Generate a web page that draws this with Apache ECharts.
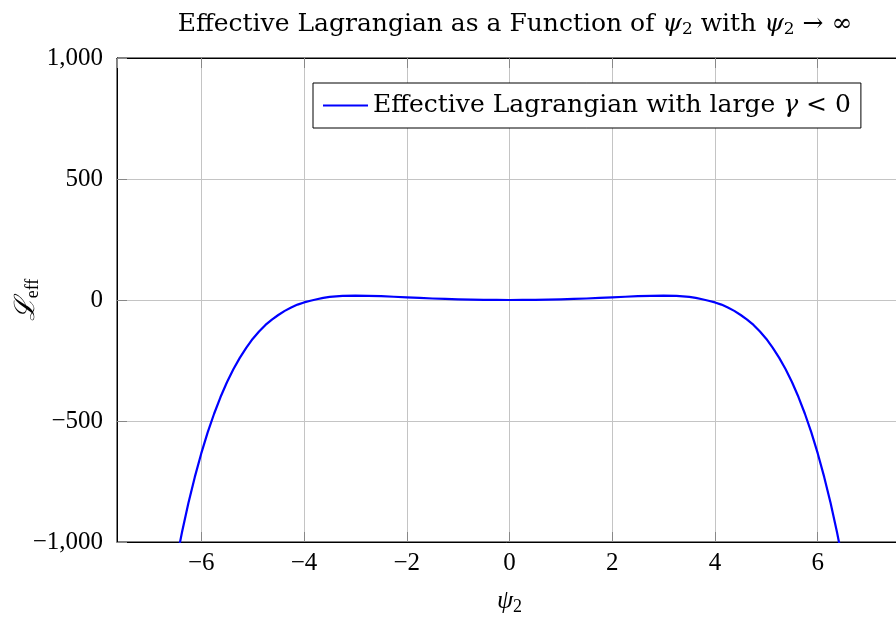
<!DOCTYPE html>
<html>
<head>
<meta charset="utf-8">
<script src="https://cdn.jsdelivr.net/npm/echarts@6/dist/echarts.min.js"></script>
<style>
html,body{margin:0;padding:0;background:#fff;}
#chart{width:896px;height:619px;}
</style>
</head>
<body>
<div id="chart"></div>
<script>
var psiValues = [-6.5, -6.375, -6.25, -6.125, -6.0, -5.875, -5.75, -5.625, -5.5, -5.375, -5.25, -5.125, -5.0, -4.875, -4.75, -4.625, -4.5, -4.375, -4.25, -4.125, -4.0, -3.875, -3.75, -3.625, -3.5, -3.25, -3.0, -2.75, -2.5, -2.25, -2.0, -1.75, -1.5, -1.25, -1.0, -0.75, -0.5, -0.25, 0,
  0.25, 0.5, 0.75, 1.0, 1.25, 1.5, 1.75, 2.0, 2.25, 2.5, 2.75, 3.0, 3.25, 3.5, 3.625, 3.75, 3.875, 4.0, 4.125, 4.25, 4.375, 4.5, 4.625, 4.75, 4.875, 5.0, 5.125, 5.25, 5.375, 5.5, 5.625, 5.75, 5.875, 6.0, 6.125, 6.25, 6.375, 6.5];
var leffValues = [-1093, -960, -839, -731, -634, -547, -470, -401, -340, -286, -239, -198, -161, -130, -103, -81, -62, -45, -31, -19, -10, -3, 3, 8.5, 12.6, 16.7, 18.0, 17.4, 15.8, 13.5, 11.0, 8.6, 6.3, 4.4, 2.8, 1.6, 0.7, 0.2, 0,
  0.2, 0.7, 1.6, 2.8, 4.4, 6.3, 8.6, 11.0, 13.5, 15.8, 17.4, 18.0, 16.7, 12.6, 8.5, 3, -3, -10, -19, -31, -45, -62, -81, -103, -130, -161, -198, -239, -286, -340, -401, -470, -547, -634, -731, -839, -960, -1093];
var seriesName = 'Effective Lagrangian with large γ < 0';
var titleText = 'Effective Lagrangian as a Function of {i|ψ}{s|2} with {i|ψ}{s|2} → ∞';

var FONT = '"Liberation Serif", "DejaVu Serif", serif';
var WFONT = '"DejaVu Serif", "Liberation Serif", serif';
var data = psiValues.map(function (p, i) { return [p, leffValues[i]]; });

function fmtNum(v) {
  var s = Math.abs(v).toString().replace(/\B(?=(\d{3})+(?!\d))/g, ',');
  return (v < 0 ? '−' : '') + s;
}

var chart = echarts.init(document.getElementById('chart'), null, {renderer: 'canvas'});
chart.setOption({
  animation: false,
  backgroundColor: '#fff',
  title: {
    text: titleText,
    left: 510,
    textAlign: 'center',
    top: 6,
    textStyle: {
      fontFamily: WFONT, fontSize: 25, fontWeight: 'normal', color: '#000',
      rich: {
        i: {fontFamily: WFONT, fontSize: 25, fontStyle: 'italic', color: '#000'},
        s: {fontFamily: WFONT, fontSize: 17, color: '#000', verticalAlign: 'bottom', padding: [10, 0, 0, 0]}
      }
    }
  },
  legend: {
    left: 313,
    top: 83,
    orient: 'horizontal',
    padding: [10, 10, 10, 10],
    borderColor: '#000',
    borderWidth: 1,
    borderRadius: 0,
    backgroundColor: '#fff',
    itemWidth: 45,
    itemHeight: 2,
    icon: 'rect',
    itemStyle: {color: '#0000ff'},
    formatter: function () { return 'Effective Lagrangian with large {i|γ} < 0'; },
    textStyle: {
      fontFamily: WFONT, fontSize: 25, color: '#000',
      rich: {i: {fontFamily: WFONT, fontSize: 25, fontStyle: 'italic', color: '#000'}}
    },
    data: [{name: seriesName, icon: 'rect'}]
  },
  grid: {
    left: 117, right: -6, top: 58, bottom: 77,
    outerBoundsMode: 'none',
    containLabel: false,
    show: true, borderColor: '#000', borderWidth: 1, backgroundColor: 'transparent'
  },
  xAxis: [{
    type: 'value',
    min: -7.64, max: 7.64,
    splitNumber: 8,
    name: '{i|ψ}{s|2}',
    nameLocation: 'middle',
    nameGap: 44,
    nameMoveOverlap: false,
    nameTextStyle: {
      fontFamily: FONT, fontSize: 26, color: '#000',
      rich: {
        i: {fontFamily: FONT, fontSize: 26, fontStyle: 'italic', color: '#000'},
        s: {fontFamily: FONT, fontSize: 18, color: '#000', verticalAlign: 'bottom', padding: [12, 0, 0, 0]}
      }
    },
    axisLine: {show: true, onZero: false, lineStyle: {color: '#000', width: 1}},
    axisTick: {show: true, inside: true, length: 10, lineStyle: {color: '#888', width: 1}},
    axisLabel: {
      showMinLabel: false, showMaxLabel: false,
      fontFamily: FONT, fontSize: 25, color: '#000', margin: 9,
      formatter: function (v) { return fmtNum(v); }
    },
    splitLine: {show: true, lineStyle: {color: '#c4c4c4', width: 1}}
  }, {
    type: 'value',
    position: 'top',
    min: -7.64, max: 7.64,
    splitNumber: 8,
    axisLine: {show: true, onZero: false, lineStyle: {color: '#000', width: 1}},
    axisTick: {show: true, inside: true, length: 10, lineStyle: {color: '#888', width: 1}},
    axisLabel: {show: false},
    splitLine: {show: false}
  }],
  yAxis: {
    type: 'value',
    min: -1000, max: 1000, interval: 500,
    name: '{L|ℒ}{s|eff}',
    nameLocation: 'middle',
    nameRotate: 90,
    nameGap: 75,
    nameMoveOverlap: false,
    nameTextStyle: {
      fontFamily: FONT, fontSize: 28, color: '#000',
      rich: {
        L: {fontFamily: FONT, fontSize: 28, fontStyle: 'italic', color: '#000'},
        s: {fontFamily: FONT, fontSize: 18, color: '#000', verticalAlign: 'bottom', padding: [12, 0, 0, 0]}
      }
    },
    axisLine: {show: true, onZero: false, lineStyle: {color: '#000', width: 1}},
    axisTick: {show: true, inside: true, length: 10, lineStyle: {color: '#888', width: 1}},
    axisLabel: {
      fontFamily: FONT, fontSize: 25, color: '#000', margin: 14,
      formatter: function (v) { return fmtNum(v); }
    },
    splitLine: {show: true, lineStyle: {color: '#c4c4c4', width: 1}}
  },
  series: [{
    name: seriesName,
    type: 'line',
    data: data,
    smooth: false,
    symbol: 'none',
    showSymbol: false,
    clip: true,
    lineStyle: {color: '#0000ff', width: 2.2, join: 'round'},
    itemStyle: {color: '#0000ff'}
  }]
});
</script>
</body>
</html>
